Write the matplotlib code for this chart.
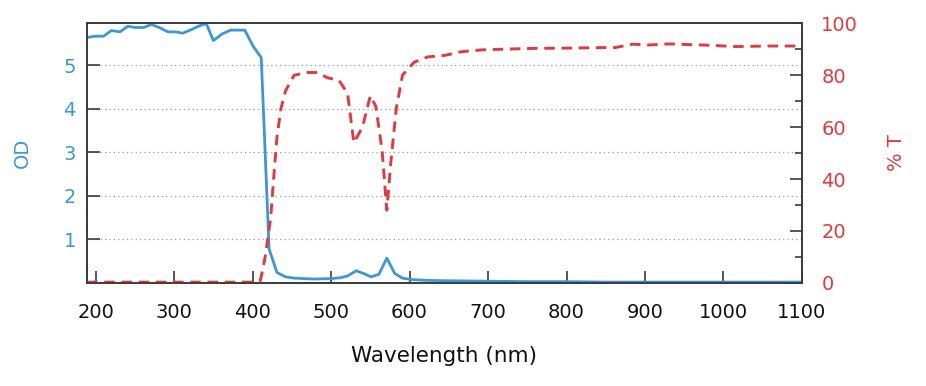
import matplotlib
matplotlib.use("Agg")
import matplotlib.pyplot as plt
from matplotlib.ticker import MultipleLocator

# OD curve (blue, left axis)
wl_od = [189, 199, 210, 220, 231, 241, 250, 261, 271, 281, 292, 302, 311, 323, 331, 341,
         350, 361, 372, 380, 390, 401, 411, 421, 431, 442, 453, 478, 500, 512, 521, 532,
         541, 551, 561, 571, 581, 591, 602, 620, 650, 700, 750, 800, 850, 900, 950, 1000,
         1050, 1100]
od = [5.64, 5.67, 5.67, 5.80, 5.77, 5.90, 5.87, 5.87, 5.94, 5.87, 5.77, 5.77, 5.74, 5.83, 5.90, 5.96,
      5.57, 5.72, 5.81, 5.81, 5.81, 5.43, 5.18, 0.78, 0.24, 0.14, 0.11, 0.09, 0.10, 0.12, 0.16, 0.28,
      0.22, 0.14, 0.20, 0.57, 0.22, 0.11, 0.08, 0.06, 0.05, 0.04, 0.03, 0.03, 0.02, 0.02, 0.02, 0.02,
      0.02, 0.02]

# %T curve (red dashed, right axis)
wl_t = [189, 400, 410, 416, 423, 427, 431, 436, 442, 453, 470, 483, 495, 510, 521, 529, 540,
        550, 557, 565, 571, 576, 583, 591, 606, 623, 645, 666, 691, 721, 760, 802, 845, 862,
        884, 905, 930, 973, 1015, 1058, 1092, 1100]
trans = [0.3, 0.3, 1, 10, 25, 41, 56, 67, 74, 80, 81, 81, 79, 78, 73, 54, 60,
         72, 68, 51, 28, 46, 67, 80, 85, 87, 87.6, 89, 89.7, 90, 90.3, 90.4, 90.6, 90.6,
         91.9, 91.6, 92, 91.6, 91, 91.2, 91.2, 90.2]

xticks = [200, 300, 400, 500, 600, 700, 800, 900, 1000, 1100]

plt.rcParams["font.family"] = "DejaVu Sans"

blue = "#3b98d6"
red = "#e0393e"
spine = "#3a3a3a"

fig = plt.figure(figsize=(9.26, 3.86), dpi=100)
ax = fig.add_axes([0.094, 0.267, 0.772, 0.673])
ax2 = ax.twinx()

ax.plot(wl_od, od, color=blue, lw=2.0)
ax2.plot(wl_t, trans, color=red, lw=2.1, ls=(0, (3.6, 2.3)))

ax.set_xlim(189, 1100)
ax.set_ylim(0, 5.97)
ax2.set_ylim(0, 100)

ax.set_xticks(xticks)
ax.set_yticks([1, 2, 3, 4, 5])
ax2.yaxis.set_major_locator(MultipleLocator(20))
ax2.yaxis.set_minor_locator(MultipleLocator(10))

ax.grid(axis="y", color="#9a9a9a", ls=(0, (1, 2.5)), lw=0.9)

ax.tick_params(axis="x", direction="in", length=9, width=1.2, color=spine,
               labelsize=14, labelcolor="#111111", pad=14.5)
ax.tick_params(axis="y", direction="in", length=9, width=1.2, color=spine,
               labelsize=14, labelcolor=blue, pad=8)
ax2.tick_params(axis="y", which="major", direction="in", length=9, width=1.2, color=spine,
                labelsize=14, labelcolor=red, pad=14)
ax2.tick_params(axis="y", which="minor", direction="in", length=5, width=1.2, color=spine)

for a in (ax, ax2):
    for s in a.spines.values():
        s.set_color(spine)
        s.set_linewidth(1.2)

ax.set_xlabel("Wavelength (nm)", fontsize=15.5, color="#111111", labelpad=17)
ax.set_ylabel("OD", fontsize=14, color=blue, labelpad=23)
ax2.set_ylabel("% T", fontsize=14, color=red, labelpad=21)

fig.savefig("out.png", dpi=100)
